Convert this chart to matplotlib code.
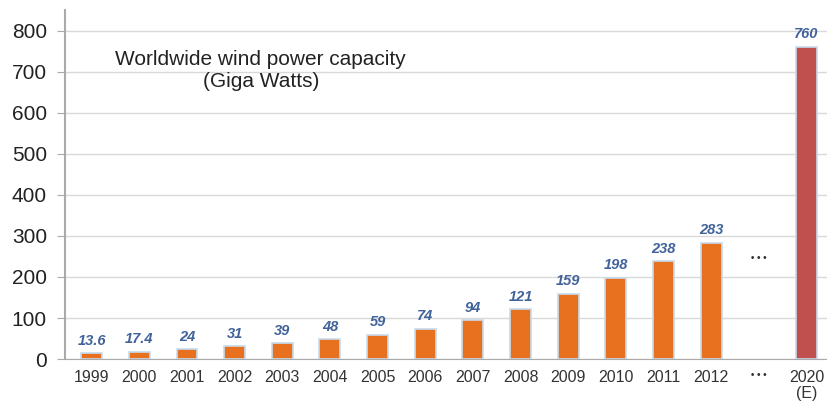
import numpy as np
import matplotlib.pyplot as plt

plt.rcParams["font.family"] = ["Liberation Sans", "DejaVu Sans"]

# Data
years = ["1999", "2000", "2001", "2002", "2003", "2004", "2005", "2006",
         "2007", "2008", "2009", "2010", "2011", "2012", "\u2022 \u2022 \u2022", "2020\n(E)"]
capacity = [13.6, 17.4, 24, 31, 39, 48, 59, 74, 94, 121, 159, 198, 238, 283, None, 760]
labels = ["13.6", "17.4", "24", "31", "39", "48", "59", "74", "94", "121",
          "159", "198", "238", "283", "", "760"]

ORANGE = "#E8711F"
RED = "#C0504D"
LABEL_BLUE = "#41639A"

fig = plt.figure(figsize=(8.28, 4.03), dpi=100)
ax = fig.add_axes([0.0785, 0.109, 0.9215, 0.866])

x = np.arange(len(years))
for i, v in enumerate(capacity):
    if v is None:
        continue
    color = RED if i == len(years) - 1 else ORANGE
    ax.bar(x[i], v, width=0.44, color=color, edgecolor="#C6DCEF", linewidth=1.2, zorder=3)
    ax.annotate(labels[i], (x[i], v), xytext=(0, 4), textcoords="offset points",
                ha="center", va="bottom", fontsize=10.5, style="italic",
                fontweight="bold", color=LABEL_BLUE, zorder=4)

# ellipsis marker between 2012 and 2020
ax.text(x[14], 245, "\u2022 \u2022 \u2022", ha="center", va="center", fontsize=7,
        color="#333333", fontweight="bold")

ax.set_xlim(-0.56, 15.45)
ax.set_ylim(0, 850)
ax.set_yticks(range(0, 801, 100))
ax.tick_params(axis="y", labelsize=15, length=6, color="#AAAAAA", labelcolor="#222222", pad=7)
ax.set_xticks(x)
ax.set_xticklabels(years, fontsize=11.5, color="#333333", linespacing=1.05)
ax.tick_params(axis="x", length=0, pad=8)
ax.get_xticklabels()[14].set_fontsize(7)
ax.get_xticklabels()[14].set_fontweight("bold")

ax.grid(axis="y", color="#D9D9D9", linewidth=1, zorder=0)
ax.set_axisbelow(True)
for s in ["top", "right"]:
    ax.spines[s].set_visible(False)
ax.spines["left"].set_color("#AAAAAA")
ax.spines["left"].set_linewidth(1.5)
ax.spines["bottom"].set_color("#AAAAAA")

ax.text(3.55, 752, "Worldwide wind power capacity\n(Giga Watts)", ha="center", va="top",
        fontsize=15, color="#222222", linespacing=1.2)

fig.savefig("out.png", dpi=100)
